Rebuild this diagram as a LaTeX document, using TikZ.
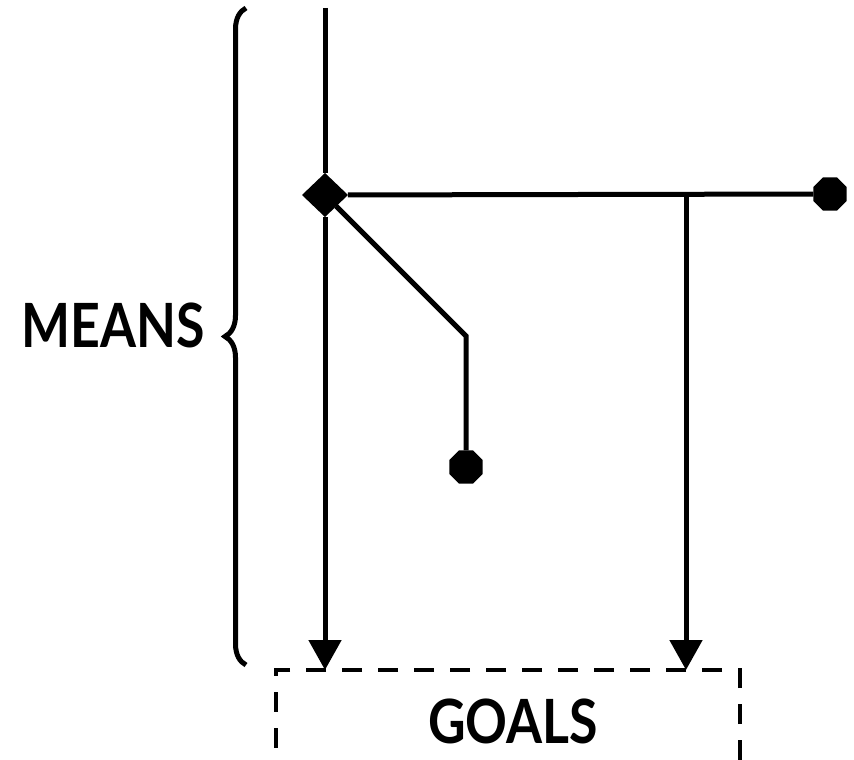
\documentclass[tikz,border=0pt]{standalone}
\usepackage{fontspec}
\setmainfont{Lato}
\usetikzlibrary{arrows.meta,shapes.geometric,decorations.pathreplacing}
\begin{document}
\begin{tikzpicture}[x=1pt,y=-1pt,line width=5pt,
  arr/.style={-{Triangle[width=32pt,length=30pt]}},
  dot/.style={regular polygon,regular polygon sides=8,fill=black,minimum size=36pt,inner sep=0pt,outer sep=0pt},
  junction/.style={diamond,fill=black,minimum width=46pt,minimum height=44pt,inner sep=0pt,outer sep=0pt},
  goalbox/.style={draw,dash pattern=on 20pt off 16pt,line width=4.5pt,minimum width=464pt,minimum height=130pt,anchor=north west,inner sep=0pt,outer sep=0pt},
  lbl/.style={font=\fontsize{61}{64}\selectfont\bfseries,inner sep=0pt},
  bracestyle/.style={decorate,decoration={brace,amplitude=21pt},line width=5pt}]
\useasboundingbox (0,0) rectangle (854,760);
\begin{scope}
\clip (0,0) rectangle (854,760);
\node[goalbox] (g) at (276,670) {};
\end{scope}
\node[lbl] (gt) at (513,721) {\scalebox{0.85}[1]{GOALS}};
\node[lbl] (m) at (113,325) {\scalebox{0.85}[1]{MEANS}};
\node[junction] (d) at (325,195) {};
\node[dot] (r) at (830,194) {};
\node[dot] (b) at (466,467) {};
\coordinate (t) at (325,8);
\coordinate (j) at (686,195);
\coordinate (k) at (466,336);
\draw (t) -- (d);
\draw (d) -- (r);
\draw (d) -- (k) -- (b);
\draw[arr] (d) -- (d |- g.north);
\draw[arr] (j) -- (j |- g.north);
\draw[bracestyle] (246,665) -- (246,8);
\end{tikzpicture}
\end{document}
